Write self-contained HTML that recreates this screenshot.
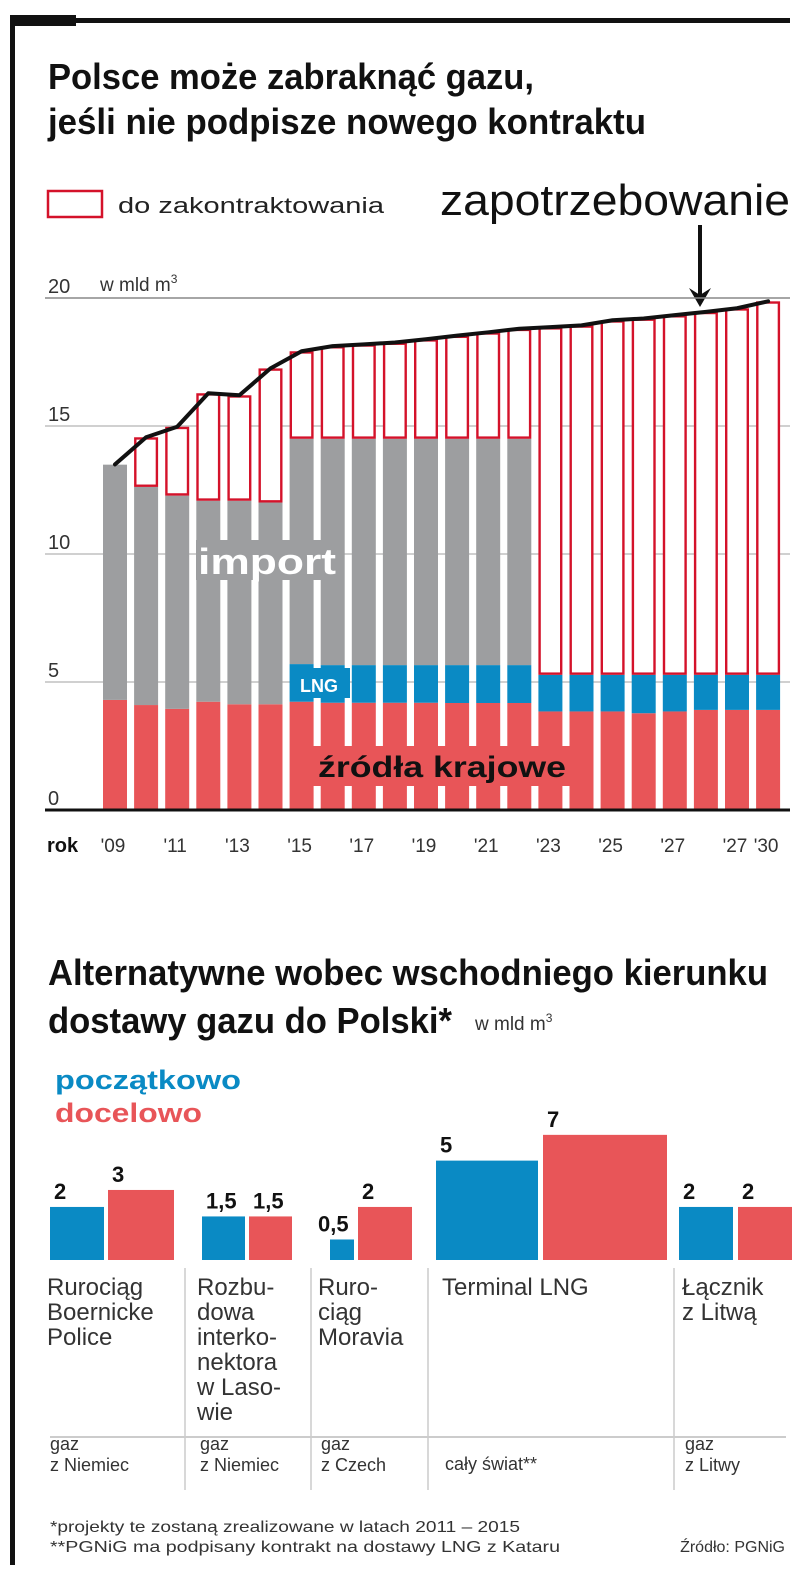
<!DOCTYPE html>
<html><head><meta charset="utf-8"><style>
html,body{margin:0;padding:0;background:#fff;}
svg{display:block;}
.nar{font-family:"Liberation Sans Narrow","Liberation Sans",sans-serif;}
</style></head><body>
<svg id="chart" width="805" height="1576" viewBox="0 0 805 1576" xmlns="http://www.w3.org/2000/svg">
<rect x="0" y="0" width="805" height="1576" fill="#fff"/>
<rect x="10" y="15" width="66" height="11" fill="#111"/>
<rect x="10" y="18" width="780" height="5" fill="#111"/>
<rect x="10" y="15" width="5" height="1550" fill="#111"/>

<g class="nar" font-weight="bold" fill="#111">
<text x="48" y="89" font-size="36" textLength="486" lengthAdjust="spacingAndGlyphs">Polsce może zabraknąć gazu,</text>
<text x="48" y="134" font-size="36" textLength="598" lengthAdjust="spacingAndGlyphs">jeśli nie podpisze nowego kontraktu</text>
</g>

<rect x="48" y="191" width="54" height="26" fill="#fff" stroke="#d4122a" stroke-width="2.5"/>
<text class="nar" x="118" y="213" font-size="22" fill="#222" textLength="266" lengthAdjust="spacingAndGlyphs">do zakontraktowania</text>
<text class="nar" x="440" y="215" font-size="44" fill="#111" textLength="350" lengthAdjust="spacingAndGlyphs">zapotrzebowanie</text>
<g>
<line x1="700" y1="225" x2="700" y2="296" stroke="#111" stroke-width="4"/>
<path d="M689 288 L700 307 L711 288 L700 295 Z" fill="#111"/>
</g>

<g id="top-chart"></g>
<g id="bottom-chart"></g>

<g class="nar" font-weight="bold" fill="#111">
<text x="48" y="985" font-size="36" textLength="720" lengthAdjust="spacingAndGlyphs">Alternatywne wobec wschodniego kierunku</text>
<text x="48" y="1033" font-size="36" textLength="404" lengthAdjust="spacingAndGlyphs">dostawy gazu do Polski*</text>
</g>
<text class="nar" x="475" y="1030" font-size="19" fill="#333">w mld m<tspan font-size="12" dy="-8">3</tspan></text>
<text x="55" y="1089" font-family="Liberation Sans, sans-serif" font-weight="bold" font-size="27" fill="#0a8ac4" textLength="186" lengthAdjust="spacingAndGlyphs">początkowo</text>
<text x="55" y="1122" font-family="Liberation Sans, sans-serif" font-weight="bold" font-size="27" fill="#e85558" textLength="147" lengthAdjust="spacingAndGlyphs">docelowo</text>

<g class="nar" fill="#333" font-size="16">
<text x="50" y="1532" textLength="470" lengthAdjust="spacingAndGlyphs">*projekty te zostaną zrealizowane w latach 2011 – 2015</text>
<text x="50" y="1552" textLength="510" lengthAdjust="spacingAndGlyphs">**PGNiG ma podpisany kontrakt na dostawy LNG z Kataru</text>
<text x="785" y="1552" text-anchor="end">Źródło: PGNiG</text>
</g>

<script>
// ===== Top chart data =====
const years = ["'09","'10","'11","'12","'13","'14","'15","'16","'17","'18","'19","'20","'21","'22","'23","'24","'25","'26","'27","'28","'27","'30"];
const tickLabels = ["'09","","'11","","'13","","'15","","'17","","'19","","'21","","'23","","'25","","'27","","'27","'30"];
const domestic = [4.3,4.1,3.95,4.23,4.13,4.13,4.23,4.19,4.19,4.19,4.19,4.18,4.18,4.18,3.85,3.85,3.85,3.78,3.85,3.91,3.91,3.91];
const lng = [0,0,0,0,0,0,1.47,1.47,1.47,1.47,1.47,1.48,1.48,1.48,1.43,1.43,1.43,1.5,1.43,1.37,1.37,1.37];
const imports = [9.19,8.52,8.33,7.85,7.95,7.88,8.8,8.84,8.84,8.84,8.84,8.84,8.84,8.84,0,0,0,0,0,0,0,0];
const demand = [13.5,14.56,14.97,16.28,16.2,17.25,17.92,18.12,18.19,18.26,18.39,18.53,18.66,18.8,18.86,18.93,19.13,19.2,19.33,19.46,19.6,19.87];
const yTicks = [0,5,10,15,20];

// ===== Bottom chart data =====
const projects = ["Rurociąg Boernicke Police","Rozbudowa interkonektora w Lasowie","Rurociąg Moravia","Terminal LNG","Łącznik z Litwą"];
const initialVals = [2,1.5,0.5,5,2];
const targetVals = [3,1.5,2,7,2];
const initialLabels = ["2","1,5","0,5","5","2"];
const targetLabels = ["3","1,5","2","7","2"];
const nameLines = [["Rurociąg","Boernicke","Police"],["Rozbu-","dowa","interko-","nektora","w Laso-","wie"],["Ruro-","ciąg","Moravia"],["Terminal LNG"],["Łącznik","z Litwą"]];
const originLines = [["gaz","z Niemiec"],["gaz","z Niemiec"],["gaz","z Czech"],["cały świat**"],["gaz","z Litwy"]];

const NS = "http://www.w3.org/2000/svg";
function mk(parent, tag, attrs, txt){
  const e = document.createElementNS(NS, tag);
  for (const k in attrs) e.setAttribute(k, attrs[k]);
  if (txt !== undefined) e.textContent = txt;
  parent.appendChild(e);
  return e;
}
const COL_GRAY="#9d9ea0", COL_BLUE="#0a8ac4", COL_RED="#e85558", COL_OUT="#d4122a";

// ---- top chart ----
const topG = document.getElementById('top-chart');
const Y0 = 810, PXU = 25.6, X0 = 103, STEP = 31.1, BW = 24;
const yS = v => Y0 - v * PXU;
const xS = i => X0 + i * STEP;

yTicks.forEach(t => {
  const g = mk(topG, 'line', {x1: 45, x2: 790, y1: yS(t), y2: yS(t), stroke: t===20 ? '#888' : '#b5b5b5', 'stroke-width': t===20 ? 1.5 : 1.2});
  
  
  const l = mk(topG, 'text', {x: 48, y: yS(t) - 5, 'font-size': 20, fill: '#333', class: 'nar'}, String(t));
  
  
});
const unit = mk(topG, 'text', {x: 100, y: yS(20) - 7, 'font-size': 19, fill: '#333', class: 'nar'}, 'w mld m');


const sup = mk(unit, 'tspan', {'font-size': 12, dy: -8}, '3');

years.forEach((yr, i) => {
  const x = xS(i);
  const d = mk(topG, 'rect', {x: x, y: yS(domestic[i]), width: BW, height: domestic[i]*PXU, fill: COL_RED});
  
  
  if (lng[i] > 0) {
    const b = mk(topG, 'rect', {x: x, y: yS(domestic[i]+lng[i]), width: BW, height: lng[i]*PXU, fill: COL_BLUE});
    
    
  }
  const base = domestic[i] + lng[i];
  if (imports[i] > 0) {
    const g = mk(topG, 'rect', {x: x, y: yS(base+imports[i]), width: BW, height: imports[i]*PXU, fill: COL_GRAY});
    
    
  }
  const stackTop = base + imports[i];
  if (demand[i] - stackTop > 0.2) {
    const o = mk(topG, 'rect', {x: x+1.2, y: yS(demand[i])+1.2, width: BW-2.4, height: (demand[i]-stackTop)*PXU-2.4, fill: '#fff', stroke: COL_OUT, 'stroke-width': 2.4});
    
    
  }
  if (tickLabels[i]) {
    const t = mk(topG, 'text', {x: x + BW/2 - 2, y: 852, 'font-size': 19, fill: '#333', 'text-anchor': 'middle', class: 'nar'}, tickLabels[i]);
    
    
  }
});
const ax = mk(topG, 'line', {x1: 45, x2: 790, y1: Y0, y2: Y0, stroke: '#111', 'stroke-width': 3});


const rok = mk(topG, 'text', {x: 47, y: 852, 'font-size': 20, 'font-weight': 'bold', fill: '#111', class: 'nar'}, 'rok');



const pts = demand.map((v, i) => (xS(i) + BW/2) + ',' + yS(v)).join(' ');
const ln = mk(topG, 'polyline', {points: pts, fill: 'none', stroke: '#111', 'stroke-width': 4, 'stroke-linejoin': 'round', 'stroke-linecap': 'round'});



// in-chart labels
const ib = mk(topG, 'rect', {x: 196, y: 540, width: 142, height: 40, fill: COL_GRAY});


const it = mk(topG, 'text', {x: 198, y: 574, 'font-size': 36, 'font-weight': 'bold', fill: '#fff', 'font-family': 'Liberation Sans, sans-serif', textLength: 138, lengthAdjust: 'spacingAndGlyphs'}, 'import');


const lb = mk(topG, 'rect', {x: 290, y: 668, width: 60, height: 30, fill: COL_BLUE});


const lt = mk(topG, 'text', {x: 300, y: 692, 'font-size': 18, 'font-weight': 'bold', fill: '#fff', 'font-family': 'Liberation Sans, sans-serif'}, 'LNG');


const kb = mk(topG, 'rect', {x: 312, y: 746, width: 258, height: 40, fill: COL_RED});


const kt = mk(topG, 'text', {x: 318, y: 777, 'font-size': 30, 'font-weight': 'bold', fill: '#111', 'font-family': 'Liberation Sans, sans-serif', textLength: 248, lengthAdjust: 'spacingAndGlyphs'}, 'źródła krajowe');



// ---- bottom chart ----
const botG = document.getElementById('bottom-chart');
const BASE = 1260;
const hS = v => 33 * Math.pow(v, 0.685);
const groupX = [[50,54,108,66],[202,43,249,43],[330,24,358,54],[436,102,543,124],[679,54,738,54]];
const nameX = [47, 197, 318, 442, 682];
projects.forEach((p, i) => {
  const [bx, bw, rx, rw] = groupX[i];
  const hb = hS(initialVals[i]), hr = hS(targetVals[i]);
  const b = mk(botG, 'rect', {x: bx, y: BASE - hb, width: bw, height: hb, fill: COL_BLUE});
  
  
  const r = mk(botG, 'rect', {x: rx, y: BASE - hr, width: rw, height: hr, fill: COL_RED});
  
  
  const tb = mk(botG, 'text', {x: bx + (i===2 ? -12 : 4), y: BASE - hb - 8, 'font-size': 22, 'font-weight': 'bold', fill: '#111', class: 'nar'}, initialLabels[i]);
  
  
  const tr = mk(botG, 'text', {x: rx + 4, y: BASE - hr - 8, 'font-size': 22, 'font-weight': 'bold', fill: '#111', class: 'nar'}, targetLabels[i]);
  
  
  nameLines[i].forEach((s, j) => {
    const t = mk(botG, 'text', {x: nameX[i], y: 1295 + j*25, 'font-size': 24, fill: '#333', class: 'nar'}, s);
    
    
  });
  originLines[i].forEach((s, j) => {
    const n = originLines[i].length;
    const t = mk(botG, 'text', {x: nameX[i] + 3, y: (n===1 ? 1470 : 1450 + j*21), 'font-size': 18, fill: '#333', class: 'nar'}, s);
    
    
  });
});
[185, 311, 428, 674].forEach((x, i) => {
  const d = mk(botG, 'line', {x1: x, x2: x, y1: 1268, y2: 1490, stroke: '#ccc', 'stroke-width': 1.5});
  
  
});
const hl = mk(botG, 'line', {x1: 50, x2: 786, y1: 1437, y2: 1437, stroke: '#ccc', 'stroke-width': 2});


</script>
</svg>
</body></html>
